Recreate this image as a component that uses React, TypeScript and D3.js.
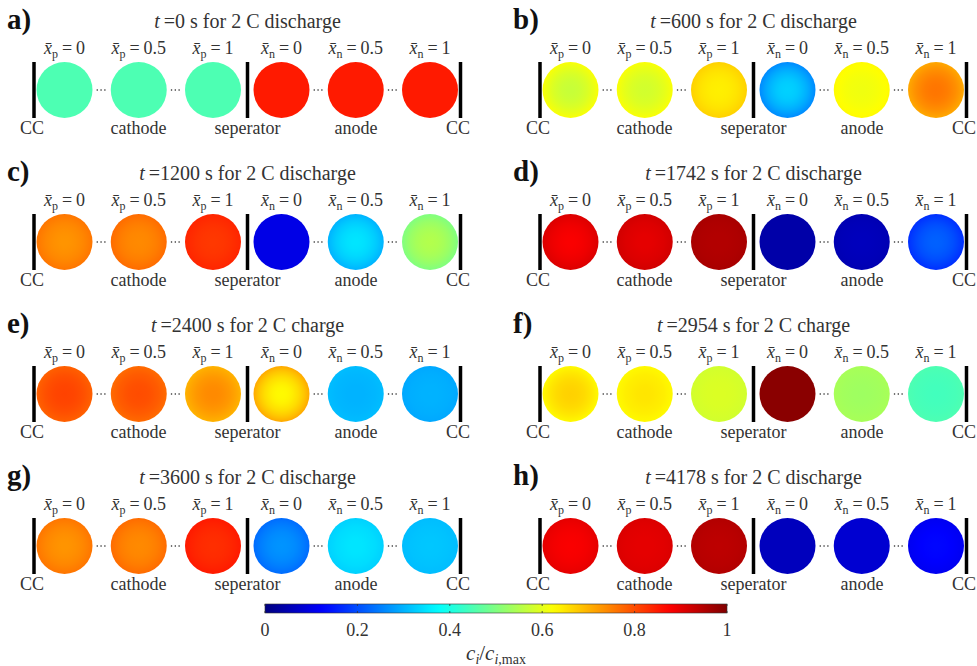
import React from "react";
import * as d3 from "d3";

// ---------- data ----------
const panelLetters = ["a)", "b)", "c)", "d)", "e)", "f)", "g)", "h)"];
const panelTimes = [0, 600, 1200, 1742, 2400, 2954, 3600, 4178];
const panelModes = ["discharge", "discharge", "discharge", "discharge", "charge", "charge", "discharge", "discharge"];
const positionLabels = ["0", "0.5", "1"];
const electrodes = ["p", "n"];
const bottomLabels = ["CC", "cathode", "seperator", "anode", "CC"];
// particle concentration c/cmax: [p0, p0.5, p1, n0, n0.5, n1]
const surfaceConc = [
  [0.45, 0.45, 0.45, 0.85, 0.85, 0.85],
  [0.62, 0.62, 0.67, 0.26, 0.63, 0.71],
  [0.76, 0.77, 0.84, 0.10, 0.30, 0.50],
  [0.91, 0.92, 0.96, 0.04, 0.05, 0.17],
  [0.78, 0.77, 0.70, 0.71, 0.31, 0.29],
  [0.63, 0.63, 0.58, 0.99, 0.54, 0.45],
  [0.76, 0.77, 0.85, 0.23, 0.33, 0.31],
  [0.90, 0.91, 0.95, 0.06, 0.08, 0.11],
];
const centerConc = [
  [0.45, 0.45, 0.45, 0.85, 0.85, 0.85],
  [0.57, 0.58, 0.64, 0.33, 0.61, 0.76],
  [0.73, 0.74, 0.82, 0.10, 0.35, 0.55],
  [0.88, 0.90, 0.95, 0.04, 0.06, 0.22],
  [0.81, 0.80, 0.74, 0.63, 0.30, 0.30],
  [0.67, 0.65, 0.59, 0.99, 0.53, 0.44],
  [0.73, 0.74, 0.83, 0.27, 0.35, 0.32],
  [0.88, 0.90, 0.94, 0.06, 0.08, 0.13],
];
const colorbarTicks = [0, 0.2, 0.4, 0.6, 0.8, 1];

// ---------- helpers ----------
const clamp = (v: number) => Math.max(0, Math.min(1, v));
function jet(t: number): string {
  const r = clamp(1.5 - Math.abs(4 * t - 3));
  const g = clamp(1.5 - Math.abs(4 * t - 2));
  const b = clamp(1.5 - Math.abs(4 * t - 1));
  return d3.rgb(r * 255, g * 255, b * 255).formatHex();
}
const color = d3.scaleSequential(jet).domain([0, 1]);

const TXT: React.CSSProperties = { fontFamily: '"Liberation Serif"' };
const COL_DX = 506;
const ROW_DY = 152;
const R = 28;

const cathodeX = d3.scalePoint<string>().domain(positionLabels).range([64.5, 213]);
const anodeX = d3.scalePoint<string>().domain(positionLabels).range([281.5, 430]);
const barXs = [34, 247.5, 460.5];
const bottomX = [32, 138.5, 247.5, 356, 470];
const bottomAnchor = ["middle", "middle", "middle", "middle", "end"];
const cbScale = d3.scaleLinear().domain([0, 1]).range([265, 727]);

function XLabel({ x, y, e, v }: { x: number; y: number; e: string; v: string }) {
  return (
    <text x={x} y={y} textAnchor="middle" style={TXT} fontSize={18} fill="#333">
      <tspan fontStyle="italic">{"x\u0304"}</tspan>
      <tspan fontSize={12} dy={4}>{e}</tspan>
      <tspan dy={-4} dx={4}>=</tspan>
      <tspan dx={4}>{v}</tspan>
    </text>
  );
}

function Panel({ p }: { p: number }) {
  const ox = (p % 2) * COL_DX;
  const oy = Math.floor(p / 2) * ROW_DY;
  const cy = 90;
  const xs = [
    ...positionLabels.map((l) => cathodeX(l) as number),
    ...positionLabels.map((l) => anodeX(l) as number),
  ];
  const dots: number[] = [];
  [0, 1, 3, 4].forEach((i) => dots.push((xs[i] + xs[i + 1]) / 2));
  return (
    <g transform={`translate(${ox},${oy})`}>
      <defs>
        {xs.map((_, i) => {
          const c0 = centerConc[p][i];
          const c1 = surfaceConc[p][i];
          const offs = d3.range(0, 1.0001, 0.1);
          return (
            <radialGradient key={i} id={`g${p}-${i}`} cx="50%" cy="50%" r="50%">
              {offs.map((o) => (
                <stop key={o} offset={o} stopColor={color(c0 + (c1 - c0) * o * o)} />
              ))}
            </radialGradient>
          );
        })}
      </defs>
      <text x={7} y={29} style={TXT} fontSize={29} fontWeight="bold" fill="#111">
        {panelLetters[p]}
      </text>
      <text x={247.5} y={28} textAnchor="middle" style={TXT} fontSize={20} fill="#333">
        <tspan fontStyle="italic">t</tspan>
        <tspan dx={4}>{`=${panelTimes[p]} s for 2 C ${panelModes[p]}`}</tspan>
      </text>
      {xs.map((x, i) => (
        <XLabel key={i} x={x} y={54} e={electrodes[i < 3 ? 0 : 1]} v={positionLabels[i % 3]} />
      ))}
      {xs.map((x, i) => (
        <circle key={i} cx={x} cy={cy} r={R} fill={`url(#g${p}-${i})`} />
      ))}
      {dots.map((x, i) => (
        <line key={i} x1={x - 5} x2={x + 6} y1={cy} y2={cy} stroke="#444" strokeWidth={1.3} strokeDasharray="1.3 2.5" />
      ))}
      {barXs.map((x, i) => (
        <line key={i} x1={x} x2={x} y1={62} y2={118} stroke="#000" strokeWidth={3.5} />
      ))}
      {bottomLabels.map((l, i) => (
        <text key={i} x={bottomX[i]} y={134} textAnchor={bottomAnchor[i]} style={TXT} fontSize={18} fill="#333">
          {l}
        </text>
      ))}
    </g>
  );
}

export default function App() {
  const cbStops = d3.range(0, 1.0001, 0.02);
  return (
    <svg width={977} height={666} style={{ position: "absolute", left: 0, top: 0, background: "#fff" }}>
      <rect width={977} height={666} fill="#fff" />
      {panelLetters.map((_, p) => (
        <Panel key={p} p={p} />
      ))}
      <defs>
        <linearGradient id="cb" x1="0" x2="1" y1="0" y2="0">
          {cbStops.map((s) => (
            <stop key={s} offset={s} stopColor={color(s)} />
          ))}
        </linearGradient>
      </defs>
      <rect x={cbScale(0)} y={604} width={cbScale(1) - cbScale(0)} height={9} fill="url(#cb)" stroke="#333" strokeWidth={0.6} />
      {colorbarTicks.map((t) => (
        <g key={t}>
          <line x1={cbScale(t)} x2={cbScale(t)} y1={604} y2={606} stroke="#333" strokeWidth={0.8} />
          <line x1={cbScale(t)} x2={cbScale(t)} y1={611} y2={613} stroke="#333" strokeWidth={0.8} />
          <text x={cbScale(t)} y={636} textAnchor="middle" style={TXT} fontSize={18} fill="#333">
            {String(t)}
          </text>
        </g>
      ))}
      <text x={496} y={660} textAnchor="middle" style={TXT} fontSize={21} fill="#333">
        <tspan fontStyle="italic">c</tspan>
        <tspan fontStyle="italic" fontSize={14} dy={4}>i</tspan>
        <tspan dy={-4}>/</tspan>
        <tspan fontStyle="italic">c</tspan>
        <tspan fontSize={14} dy={4}><tspan fontStyle="italic">i</tspan>,max</tspan>
      </text>
    </svg>
  );
}
